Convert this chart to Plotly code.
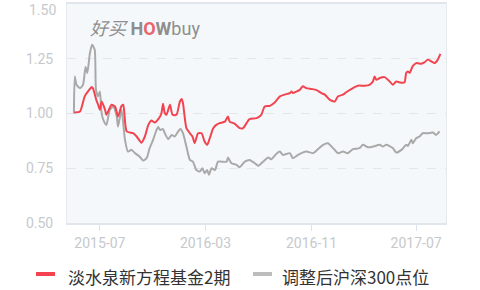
import plotly.graph_objects as go

fund_name = "淡水泉新方程基金2期"
index_name = "调整后沪深300点位"

fund_dates = ["2015-05-03","2015-05-16","2015-05-27","2015-06-08","2015-06-12","2015-06-15","2015-06-23","2015-06-27",
"2015-07-01","2015-07-05","2015-07-13","2015-07-16","2015-07-28","2015-08-05","2015-08-12","2015-08-20","2015-08-24",
"2015-09-01","2015-09-16","2015-09-24","2015-10-05","2015-10-13","2015-10-21","2015-10-28","2015-11-05","2015-11-13",
"2015-11-20","2015-11-24","2015-11-28","2015-12-02","2015-12-10","2015-12-16","2015-12-25","2016-01-02","2016-01-06",
"2016-01-09","2016-01-17","2016-01-25","2016-01-31","2016-02-05","2016-02-13","2016-02-21","2016-02-28","2016-03-05",
"2016-03-11","2016-03-19","2016-03-26","2016-04-03","2016-04-15","2016-04-22","2016-04-26","2016-05-08","2016-05-19",
"2016-05-27","2016-06-04","2016-06-11","2016-06-27","2016-07-08","2016-07-16","2016-07-28","2016-08-08","2016-08-20",
"2016-08-31","2016-09-12","2016-09-16","2016-09-19","2016-09-27","2016-10-05","2016-10-12","2016-10-20","2016-11-01",
"2016-11-12","2016-11-24","2016-12-02","2016-12-13","2016-12-25","2017-01-01","2017-01-13","2017-01-21","2017-02-05",
"2017-02-16","2017-03-04","2017-03-15","2017-03-23","2017-03-27","2017-03-31","2017-04-08","2017-04-19","2017-05-01",
"2017-05-08","2017-05-16","2017-05-24","2017-06-04","2017-06-08","2017-06-12","2017-06-16","2017-06-23","2017-07-01",
"2017-07-13","2017-07-20","2017-07-28","2017-08-05","2017-08-13","2017-08-20","2017-08-26"]
fund_values = [1.005,1.009,1.078,1.112,1.121,1.115,1.060,1.040,
1.017,1.055,1.017,0.994,1.040,1.032,0.986,1.035,1.040,
0.918,0.910,0.895,0.867,0.895,0.948,0.968,0.959,0.974,
0.999,1.044,1.002,0.994,1.040,0.994,0.994,1.055,1.066,
1.048,0.933,0.910,0.895,0.865,0.910,0.910,0.872,0.857,
0.887,0.933,0.948,0.956,0.963,0.986,0.963,0.953,0.933,
0.933,0.956,0.974,0.979,0.994,1.032,1.035,1.050,1.078,
1.086,1.093,1.100,1.093,1.100,1.108,1.124,1.116,1.112,
1.108,1.093,1.086,1.063,1.055,1.078,1.086,1.098,1.116,
1.127,1.127,1.131,1.146,1.169,1.154,1.162,1.166,1.146,
1.131,1.146,1.142,1.142,1.185,1.192,1.185,1.216,1.230,
1.227,1.233,1.246,1.238,1.230,1.246,1.272]

index_dates = ["2015-05-02","2015-05-04","2015-05-08","2015-05-16","2015-05-23","2015-05-29","2015-06-02","2015-06-08",
"2015-06-13","2015-06-19","2015-06-22","2015-06-27","2015-07-01","2015-07-05","2015-07-09","2015-07-16","2015-07-24",
"2015-08-01","2015-08-09","2015-08-12","2015-08-20","2015-08-28","2015-09-04","2015-09-12","2015-09-20","2015-10-01",
"2015-10-09","2015-10-17","2015-10-24","2015-11-01","2015-11-09","2015-11-13","2015-11-17","2015-11-24","2015-11-28",
"2015-12-06","2015-12-14","2015-12-21","2015-12-29","2016-01-03","2016-01-09","2016-01-17","2016-01-25","2016-02-01",
"2016-02-09","2016-02-17","2016-02-23","2016-02-28","2016-03-05","2016-03-09","2016-03-15","2016-03-23","2016-03-30",
"2016-04-07","2016-04-19","2016-04-22","2016-04-30","2016-05-12","2016-05-19","2016-05-31","2016-06-11","2016-06-23",
"2016-07-01","2016-07-12","2016-07-24","2016-07-31","2016-08-12","2016-08-20","2016-08-27","2016-09-12","2016-09-19",
"2016-10-01","2016-10-20","2016-11-05","2016-11-16","2016-11-28","2016-12-09","2016-12-21","2017-01-01","2017-01-13",
"2017-01-24","2017-02-05","2017-02-20","2017-02-28","2017-03-12","2017-03-23","2017-04-08","2017-04-15","2017-04-23",
"2017-05-08","2017-05-16","2017-05-28","2017-06-08","2017-06-12","2017-06-20","2017-06-23","2017-07-01","2017-07-09",
"2017-07-16","2017-07-28","2017-08-09","2017-08-16","2017-08-24"]
index_values = [1.000,1.169,1.131,1.116,1.131,1.212,1.185,1.276,
1.314,1.291,1.108,1.078,1.100,1.002,0.971,0.948,1.017,
1.032,0.986,0.940,1.017,0.880,0.826,0.834,0.819,0.803,
0.785,0.796,0.842,0.880,0.925,0.938,0.925,0.929,0.910,
0.883,0.902,0.895,0.918,0.929,0.910,0.849,0.788,0.780,
0.742,0.735,0.750,0.727,0.742,0.720,0.750,0.742,0.780,
0.780,0.780,0.799,0.773,0.765,0.755,0.780,0.788,0.773,
0.761,0.780,0.799,0.791,0.816,0.826,0.811,0.819,0.796,
0.811,0.826,0.819,0.837,0.857,0.864,0.842,0.819,0.826,
0.819,0.837,0.842,0.857,0.846,0.849,0.857,0.849,0.857,
0.842,0.822,0.834,0.857,0.852,0.880,0.864,0.887,0.895,
0.910,0.910,0.913,0.902,0.918]

x_tick_vals = ["2015-07-01", "2016-03-01", "2016-11-01", "2017-07-01"]
x_tick_text = ["2015-07", "2016-03", "2016-11", "2017-07"]
y_tick_vals = [0.5, 0.75, 1.0, 1.25]
y_tick_text = ["0.50", "0.75", "1.00", "1.25"]
y_top_label = "1.50"

RED = "#f2434f"
GRAY = "#a9a9a9"
LEG_GRAY = "#bdbdbd"
TICK_COLOR = "#c6c9cc"
FONT = "Roboto, 'Noto Sans CJK SC', sans-serif"

W, H = 480, 290
ML, MR, MT, MB = 67, 34, 4, 67
PW, PH = W - ML - MR, H - MT - MB


def px_x(px):
    return (px - ML) / PW


def px_y(py):
    return (H - MB - py) / PH


fig = go.Figure()
fig.add_trace(go.Scatter(x=index_dates, y=index_values, mode="lines", showlegend=False, name=index_name,
                         line=dict(color=GRAY, width=2, shape="spline", smoothing=0.6), hoverinfo="skip"))
fig.add_trace(go.Scatter(x=fund_dates, y=fund_values, mode="lines", showlegend=False, name=fund_name,
                         line=dict(color=RED, width=2, shape="spline", smoothing=0.6), hoverinfo="skip"))

fig.update_layout(
    width=W, height=H,
    margin=dict(l=ML, r=MR, t=MT, b=MB, autoexpand=False),
    paper_bgcolor="white",
    plot_bgcolor="#f5f8fa",
    font=dict(family=FONT),
    showlegend=False,
    xaxis=dict(type="date", range=["2015-04-16", "2017-09-08"],
               tickvals=x_tick_vals, ticktext=x_tick_text,
               showgrid=False, zeroline=False,
               ticks="outside", ticklen=6, tickcolor="#dde3ea", tickwidth=1,
               tickfont=dict(size=14, color=TICK_COLOR),
               showline=True, linecolor="#e0e6ec", linewidth=2, mirror=True),
    yaxis=dict(range=[0.5, 1.5], tickvals=y_tick_vals, ticktext=y_tick_text,
               showgrid=True, gridcolor="#e3e7eb", griddash="dash", gridwidth=1,
               zeroline=False, ticks="", ticklabelstandoff=10,
               tickfont=dict(size=14, color=TICK_COLOR),
               showline=True, linecolor="#e6eaee", linewidth=1, mirror=True),
)

# top y label (pushed inside the canvas as in the original)
fig.add_annotation(xref="paper", yref="y", x=0, y=1.5, xanchor="right", yanchor="middle",
                   xshift=-9, yshift=-6, text=y_top_label, showarrow=False,
                   font=dict(size=14, color=TICK_COLOR, family=FONT))

# watermark
fig.add_annotation(
    xref="paper", yref="paper", x=0.205, y=0.887, xanchor="center", yanchor="middle",
    text="<i>好买</i> <b>H</b><b><span style='color:#e8666b'>O</span></b><b>W</b>buy",
    showarrow=False, font=dict(size=18, color="#8e8e8e", family="Roboto, 'Noto Sans CJK SC'"),
)

# legend (drawn manually to keep it in one row)
legend_items = [(fund_name, RED, 36, 55, 66), (index_name, LEG_GRAY, 253, 272, 280)]
for name, col, x0, x1, xt in legend_items:
    fig.add_shape(type="line", xref="paper", yref="paper",
                  x0=px_x(x0), x1=px_x(x1), y0=px_y(274), y1=px_y(274),
                  line=dict(color=col, width=4))
    fig.add_annotation(xref="paper", yref="paper", x=px_x(xt), y=px_y(276),
                       xanchor="left", yanchor="middle", text=name, showarrow=False,
                       font=dict(size=17, color="#333333", family="'Noto Sans CJK SC', sans-serif"))

fig.write_html("out.html")
